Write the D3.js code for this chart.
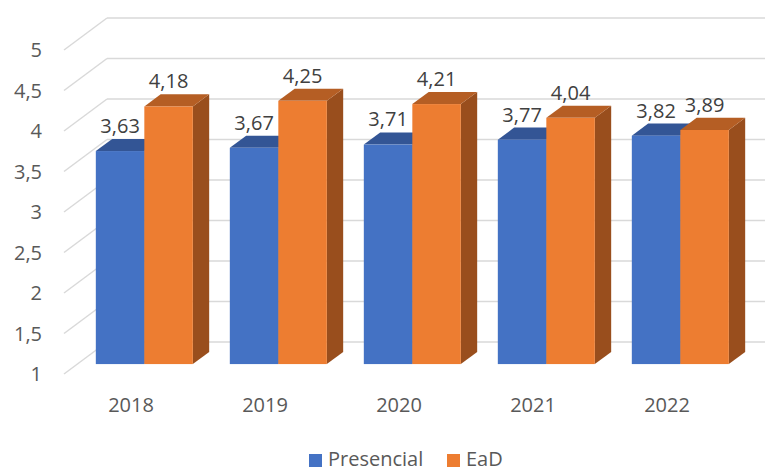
<!DOCTYPE html>
<html>
<head>
<meta charset="utf-8">
<script src="https://cdn.jsdelivr.net/npm/d3@7"></script>
<style>
  body { margin: 0; background: #fff; }
  svg { display: block; font-family: "Open Sans", sans-serif; }
</style>
</head>
<body>
<svg width="765" height="471"></svg>
<script>
const years = ["2018", "2019", "2020", "2021", "2022"];
const series = ["Presencial", "EaD"];
const presencial = [3.63, 3.67, 3.71, 3.77, 3.82];
const ead = [4.18, 4.25, 4.21, 4.04, 3.89];
const yTicks = [1, 1.5, 2, 2.5, 3, 3.5, 4, 4.5, 5];

const colors = {
  Presencial: {front: "#4472C4", top: "#335595", side: "#2E4D87"},
  EaD: {front: "#ED7D31", top: "#B55E24", side: "#994E1D"}
};

// depth of the 3d box (back wall offset) and where bars sit in it
const depth = {dx: 43, dy: -32};
const z0 = 0.31, z1 = 0.69;

const svg = d3.select("svg");

const x0 = d3.scaleBand().domain(years).range([64, 734]);
const x1 = d3.scaleBand().domain(series)
  .range([x0.bandwidth() * 0.138, x0.bandwidth() * 0.862]);
const y = d3.scaleLinear().domain([1, 5]).range([374, 50]);

const px = (x, z) => x + depth.dx * z;
const py = (yy, z) => yy + depth.dy * z;

const fmt = v => String(v).replace(".", ",");

// grid: side wall diagonals + back wall lines
const grid = svg.append("g").attr("stroke", "#D9D9D9").attr("stroke-width", 1.5);
grid.selectAll("line.side")
  .data(yTicks)
  .enter().append("line")
    .attr("x1", px(64, 0)).attr("y1", d => y(d))
    .attr("x2", px(64, 1)).attr("y2", d => py(y(d), 1));
grid.selectAll("line.back")
  .data(yTicks)
  .enter().append("line")
    .attr("x1", px(64, 1)).attr("y1", d => py(y(d), 1))
    .attr("x2", 770).attr("y2", d => py(y(d), 1));

// y axis labels
svg.append("g").selectAll("text")
  .data(yTicks)
  .enter().append("text")
    .attr("x", 42)
    .attr("y", d => y(d) + 2)
    .attr("text-anchor", "end")
    .attr("dominant-baseline", "middle")
    .attr("font-size", 20)
    .attr("fill", "#595959")
    .text(d => fmt(d));

// bars
const bars = [];
years.forEach((yr, i) => {
  bars.push({year: yr, key: "Presencial", value: presencial[i]});
  bars.push({year: yr, key: "EaD", value: ead[i]});
});

const barG = svg.append("g");
bars.forEach(d => {
  const xl = x0(d.year) + x1(d.key);
  const xr = xl + x1.bandwidth();
  const yt = y(d.value);
  const yb = y(1);
  const c = colors[d.key];
  const g = barG.append("g");
  // side
  g.append("path")
    .attr("d", d3.line()([
      [px(xr, z0), py(yt, z0)], [px(xr, z1), py(yt, z1)],
      [px(xr, z1), py(yb, z1)], [px(xr, z0), py(yb, z0)]
    ]) + "Z")
    .attr("fill", c.side);
  // top
  g.append("path")
    .attr("d", d3.line()([
      [px(xl, z0), py(yt, z0)], [px(xr, z0), py(yt, z0)],
      [px(xr, z1), py(yt, z1)], [px(xl, z1), py(yt, z1)]
    ]) + "Z")
    .attr("fill", c.top);
  // front
  g.append("rect")
    .attr("x", px(xl, z0))
    .attr("y", py(yt, z0))
    .attr("width", xr - xl)
    .attr("height", yb - yt)
    .attr("fill", c.front);
});

// data labels
svg.append("g").selectAll("text")
  .data(bars)
  .enter().append("text")
    .attr("x", d => px(x0(d.year) + x1(d.key) + x1.bandwidth() / 2, z0))
    .attr("y", d => py(y(d.value), z1) - 6)
    .attr("text-anchor", "middle")
    .attr("font-size", 20)
    .attr("fill", "#404040")
    .text(d => fmt(d.value));

// year labels
svg.append("g").selectAll("text")
  .data(years)
  .enter().append("text")
    .attr("x", d => x0(d) + x0.bandwidth() / 2)
    .attr("y", 412)
    .attr("text-anchor", "middle")
    .attr("font-size", 20)
    .attr("fill", "#595959")
    .text(d => d);

// legend
const legend = svg.append("g");
const legX = [309, 447];
series.forEach((s, i) => {
  legend.append("rect")
    .attr("x", legX[i]).attr("y", 454)
    .attr("width", 13).attr("height", 13)
    .attr("fill", colors[s].front);
  legend.append("text")
    .attr("x", legX[i] + 19).attr("y", 466)
    .attr("font-size", 20)
    .attr("fill", "#595959")
    .text(s);
});
</script>
</body>
</html>
